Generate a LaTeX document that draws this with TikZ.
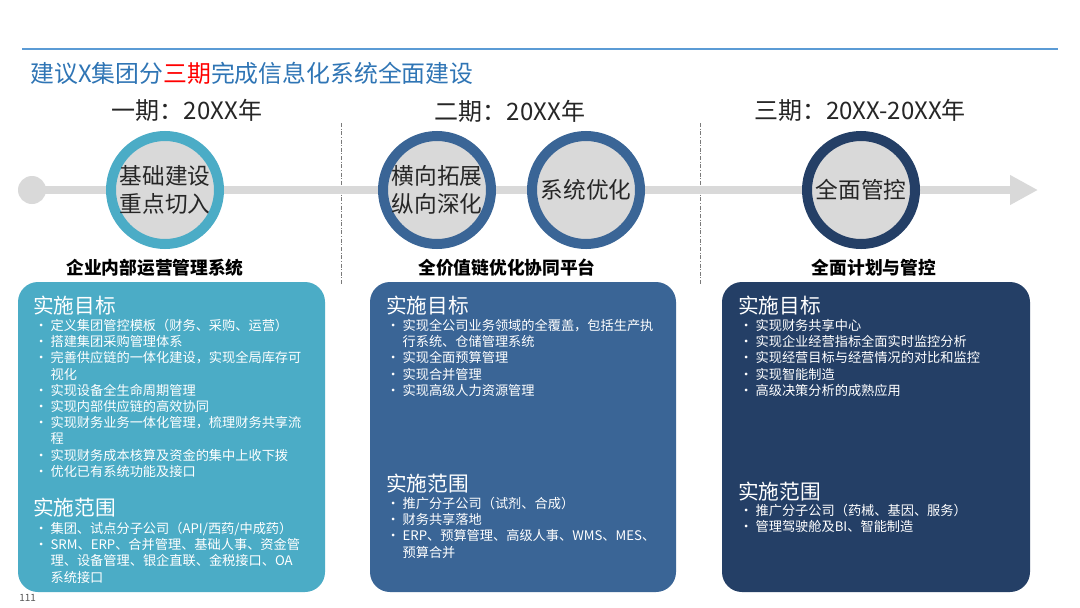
\documentclass[tikz,border=0pt]{standalone}
\usepackage{fontspec}
\setmainfont{Noto Sans CJK SC}
\usepackage{xcolor}
\definecolor{titleblue}{HTML}{2F75B5}
\definecolor{rulebl}{HTML}{5B9BD5}
\definecolor{phaseA}{HTML}{4BACC6}
\definecolor{phaseB}{HTML}{3A6596}
\definecolor{phaseC}{HTML}{243F66}
\definecolor{track}{HTML}{D9D9D9}
\definecolor{ink}{HTML}{262626}
\definecolor{muted}{HTML}{595959}
\usepackage{tikz}
\usetikzlibrary{positioning,arrows.meta}
\newcommand{\bi}[1]{\makebox[10pt][l]{\hspace*{-2pt}•}#1}
\newcommand{\ct}[1]{\hspace*{10pt}#1}
\tikzset{
  hdr/.style={font=\fontsize{18}{20}\selectfont,text=ink,inner sep=0pt},
  stage/.style={circle,line width=7.5pt,fill=track,minimum size=81pt,inner sep=0pt,align=center,
    text=ink,font=\fontsize{17}{21}\selectfont},
  tag/.style={font=\bfseries\fontsize{13.3}{15}\selectfont,text=black,inner sep=0pt},
  panel/.style={rounded corners=15pt,draw=none},
  sec/.style={font=\fontsize{15.5}{17}\selectfont,text=white,inner sep=0pt,anchor=west},
  items/.style={font=\fontsize{9.9}{12.15}\selectfont,text=white,inner sep=0pt,align=left,anchor=north west},
  sep/.style={draw=muted!80,line width=0.6pt,dash pattern=on 3pt off 1.2pt on 0.8pt off 1.2pt},
  trackline/.style={draw=track,line width=6pt,-{Triangle[length=21pt,width=21pt]}},
}

\begin{document}
\begin{tikzpicture}[x=0.75pt,y=-0.75pt]
  \fill[white] (0,0) rectangle (1080,607);
  \useasboundingbox (0,0) rectangle (1080,607);
  % title
  \draw[rulebl,line width=0.8pt] (22,49) -- (1058,49);
  \node[anchor=west,inner sep=0pt,text=titleblue,font=\fontsize{17.9}{20}\selectfont] (title) at (30,73)
    {建议X集团分\textcolor{red}{三期}完成信息化系统全面建设};
  % phase headers
  \node[hdr] (h1) at (187,110) {一期：20XX年};
  \node[hdr] (h2) at (510,111) {二期：20XX年};
  \node[hdr] (h3) at (860,110) {三期：20XX-20XX年};
  \draw[sep] (341,123) -- (341,284);
  \draw[sep] (700,123) -- (700,284);
  % timeline
  \node[circle,fill=track,minimum size=21pt,inner sep=0pt] (origin) at (32,190) {};
  \coordinate (tip) at (1038,190);
  \draw[trackline] (origin.center) -- (tip);
  \node[stage,draw=phaseA] (s1) at (165,190) {基础建设\\重点切入};
  \node[stage,draw=phaseB] (s2) at (437,190) {横向拓展\\纵向深化};
  \node[stage,draw=phaseB] (s3) at (586,190) {系统优化};
  \node[stage,draw=phaseC] (s4) at (861,190) {全面管控};
  % stage tags
  \node[tag] (t1) at (155,268) {企业内部运营管理系统};
  \node[tag] (t2) at (507,268) {全价值链优化协同平台};
  \node[tag] (t3) at (874,268) {全面计划与管控};
  % panels
  \fill[panel,phaseA] (18,282) rectangle (325,592);
  \fill[panel,phaseB] (370,282) rectangle (676,592);
  \fill[panel,phaseC] (722,282) rectangle (1030,592);
  % panel 1
  \node[sec] (g1) at (33,306) {实施目标};
  \node[items] (gl1) at (37,319) {\bi{定义集团管控模板（财务、采购、运营）}\\
    \bi{搭建集团采购管理体系}\\
    \bi{完善供应链的一体化建设，实现全局库存可}\\
    \ct{视化}\\
    \bi{实现设备全生命周期管理}\\
    \bi{实现内部供应链的高效协同}\\
    \bi{实现财务业务一体化管理，梳理财务共享流}\\
    \ct{程}\\
    \bi{实现财务成本核算及资金的集中上收下拨}\\
    \bi{优化已有系统功能及接口}};
  \node[sec] (r1) at (33,508) {实施范围};
  \node[items] (rl1) at (37,522) {\bi{集团、试点分子公司（API/西药/中成药）}\\
    \bi{SRM、ERP、合并管理、基础人事、资金管}\\
    \ct{理、设备管理、银企直联、金税接口、OA}\\
    \ct{系统接口}};
  % panel 2
  \node[sec] (g2) at (386,306) {实施目标};
  \node[items] (gl2) at (389,319) {\bi{实现全公司业务领域的全覆盖，包括生产执}\\
    \ct{行系统、仓储管理系统}\\
    \bi{实现全面预算管理}\\
    \bi{实现合并管理}\\
    \bi{实现高级人力资源管理}};
  \node[sec] (r2) at (386,484) {实施范围};
  \node[items] (rl2) at (389,497) {\bi{推广分子公司（试剂、合成）}\\
    \bi{财务共享落地}\\
    \bi{ERP、预算管理、高级人事、WMS、MES、}\\
    \ct{预算合并}};
  % panel 3
  \node[sec] (g3) at (738,306) {实施目标};
  \node[items] (gl3) at (742,319) {\bi{实现财务共享中心}\\
    \bi{实现企业经营指标全面实时监控分析}\\
    \bi{实现经营目标与经营情况的对比和监控}\\
    \bi{实现智能制造}\\
    \bi{高级决策分析的成熟应用}};
  \node[sec] (r3) at (738,492) {实施范围};
  \node[items] (rl3) at (742,504) {\bi{推广分子公司（药械、基因、服务）}\\
    \bi{管理驾驶舱及BI、智能制造}};
  % page number
  \node[anchor=west,inner sep=0pt,text=muted,font=\fontsize{7.5}{8}\selectfont] (pg) at (19,598) {111};
\end{tikzpicture}
\end{document}
